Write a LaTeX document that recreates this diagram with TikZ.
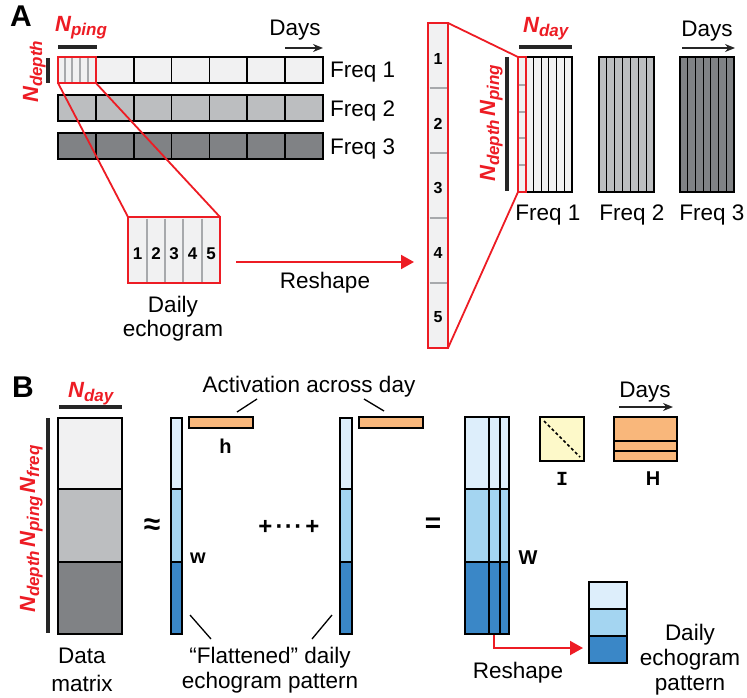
\documentclass[tikz,border=0pt]{standalone}
\usepackage{fontspec}
\setmainfont{Liberation Sans}
\setmonofont{Liberation Mono}
\usetikzlibrary{arrows.meta,calc}
\definecolor{myred}{HTML}{ED1C24}
\definecolor{g1}{HTML}{F1F1F2}
\definecolor{g2}{HTML}{BCBEC0}
\definecolor{g3}{HTML}{808285}
\definecolor{gl}{HTML}{A7A9AC}
\definecolor{b1}{HTML}{DDEEFB}
\definecolor{b2}{HTML}{A4D5F1}
\definecolor{b3}{HTML}{3A87C7}
\definecolor{orng}{HTML}{F9B77B}
\definecolor{ylw}{HTML}{FDF9C9}
\newcommand\Nlab[1]{{\fontsize{22}{24}\selectfont\bfseries\itshape N\raisebox{-4pt}{\fontsize{17}{18}\selectfont #1}}}
\begin{document}
\begin{tikzpicture}[x=1pt,y=-1pt,
  mat/.style={draw=black,line width=1.6pt,inner sep=0pt,outer sep=0pt,anchor=north west},
  redmat/.style={draw=myred,line width=1.6pt,inner sep=0pt,outer sep=0pt,anchor=north west},
  txt/.style={font=\fontsize{22.5}{25}\selectfont,inner sep=0pt,anchor=base},
  bld/.style={font=\fontsize{20}{22}\selectfont\bfseries,inner sep=0pt,anchor=base},
  panel/.style={font=\fontsize{30}{32}\selectfont\bfseries,inner sep=0pt,anchor=base west},
  num/.style={font=\fontsize{17}{18}\selectfont\bfseries,inner sep=0pt},
  op/.style={font=\fontsize{26}{28}\selectfont\bfseries,inner sep=0pt},
  redlab/.style={text=myred,inner sep=0pt,anchor=base west},
  dimbar/.style={line width=4pt,draw=black!85},
  redline/.style={draw=myred,line width=1.8pt},
  divider/.style={draw=black,line width=1.6pt},
  thindiv/.style={draw=black,line width=1.2pt},
  grayline/.style={draw=gl,line width=1.2pt},
  leader/.style={draw=black,line width=1.3pt},
  dayarrow/.style={draw=black!85,line width=1.4pt,-{Stealth[length=10pt,width=8pt]}},
  redarrow/.style={draw=myred,line width=2pt,-{Triangle[length=13pt,width=14pt]}},
]
\useasboundingbox (0,0) rectangle (747,698);

% ---------------- Panel A ----------------
\node[panel] (A) at (10,27) {A};
\node[redlab] (nping) at (55,32) {\Nlab{ping}};
\draw[dimbar] (58,47) -- (97,47);
\node[txt] (daysA) at (295,36) {Days};
\coordinate (daysAs) at (285,48);
\coordinate (daysAe) at (323,48);
\draw[dayarrow] (daysAs) -- (daysAe);

\node[redlab,rotate=90] (ndepth) at (38,103) {\Nlab{depth}};
\draw[dimbar] (48,58) -- (48,83);

\node[mat,fill=g1,minimum width=265pt,minimum height=26pt] (r1) at (58,57) {};
\node[mat,fill=g2,minimum width=265pt,minimum height=26pt] (r2) at (58,95) {};
\node[mat,fill=g3,minimum width=265pt,minimum height=26pt] (r3) at (58,133) {};
\foreach \i in {1,...,6}{
  \draw[divider] ({58+\i*265/7},57) -- ++(0,26);
  \draw[divider] ({58+\i*265/7},95) -- ++(0,26);
  \draw[divider] ({58+\i*265/7},133) -- ++(0,26);
}
\foreach \x in {65,72,80,88} \draw[grayline] (\x,58) -- (\x,82);
\node[redmat,minimum width=37.86pt,minimum height=26pt] (hl) at (58,57) {};

\node[txt,anchor=base west] (fA1) at (330,78) {Freq 1};
\node[txt,anchor=base west] (fA2) at (330,117) {Freq 2};
\node[txt,anchor=base west] (fA3) at (330,155) {Freq 3};

% daily echogram
\node[redmat,fill=g1,minimum width=92pt,minimum height=66pt] (echo) at (128,217) {};
\foreach \x in {147,165,183,202} \draw[grayline] (\x,218.5) -- (\x,281.5);
\foreach \n/\x in {1/137.5,2/156,3/174,4/192.5,5/211}
  \node[num] (e\n) at (\x,253.5) {\n};
\draw[redline] (hl.south west) -- (echo.north west);
\draw[redline] (hl.south east) -- (echo.north east);
\node[txt] (dailyA1) at (173,312) {Daily};
\node[txt] (dailyA2) at (173,336) {echogram};

% reshape arrow
\coordinate (rsA1) at (236,262);
\coordinate (rsA2) at (414,262);
\draw[redarrow] (rsA1) -- (rsA2);
\node[txt] (reshapeA) at (325,288) {Reshape};

% tall column
\node[redmat,fill=g1,minimum width=20pt,minimum height=325pt] (tall) at (428,23) {};
\foreach \y in {88,153,218,283} \draw[grayline] (429.5,\y) -- (446.5,\y);
\foreach \n/\y in {1/59,2/124,3/188,4/252.5,5/317.5}
  \node[num,font=\fontsize{16}{17}\selectfont\bfseries] (t\n) at (438,\y) {\n};

% Freq matrices
\node[mat,fill=g1,minimum width=54pt,minimum height=135pt] (F1) at (518,57) {};
\node[mat,fill=g2,minimum width=55pt,minimum height=135pt] (F2) at (599,57) {};
\node[mat,fill=g3,minimum width=54pt,minimum height=135pt] (F3) at (680,57) {};
\foreach \i in {1,...,6}{
  \draw[thindiv] ({518+\i*54/7},57) -- ++(0,135);
  \draw[thindiv] ({599+\i*55/7},57) -- ++(0,135);
  \draw[thindiv] ({680+\i*54/7},57) -- ++(0,135);
}
\node[redmat,fill=g1,minimum width=7.71pt,minimum height=135pt] (col) at (518,57) {};
\foreach \y in {85,112,138,165} \draw[grayline] (519,\y) -- (525,\y);
\draw[redline] (tall.north east) -- (col.north west);
\draw[redline] (tall.south east) -- (col.south west);

\node[redlab] (ndayA) at (523,33) {\Nlab{day}};
\draw[dimbar] (519,47) -- (572,47);
\draw[dimbar] (507,57) -- (507,191);
\node[redlab,rotate=90] (ndpA) at (495,182) {\Nlab{depth} \Nlab{ping}};
\node[txt] (daysA2) at (707,37) {Days};
\coordinate (daysBs) at (682,48);
\coordinate (daysBe) at (735,48);
\draw[dayarrow] (daysBs) -- (daysBe);
\node[txt] (fR1) at (548,220) {Freq 1};
\node[txt] (fR2) at (632,220) {Freq 2};
\node[txt] (fR3) at (712,220) {Freq 3};

% ---------------- Panel B ----------------
\node[panel] (B) at (12,397) {B};
\node[redlab] (ndayB) at (68,397) {\Nlab{day}};
\draw[dimbar] (59,407) -- (122,407);
\draw[dimbar] (48,418) -- (48,633);
\node[redlab,rotate=90] (ndpfB) at (35,613) {\Nlab{depth} \Nlab{ping} \Nlab{freq}};

\node[mat,fill=g1,minimum width=64pt,minimum height=71pt] (d1) at (58,418) {};
\node[mat,fill=g2,minimum width=64pt,minimum height=73pt] (d2) at (58,489) {};
\node[mat,fill=g3,minimum width=64pt,minimum height=72pt] (d3) at (58,562) {};
\node[txt] (data1) at (82,663) {Data};
\node[txt] (data2) at (82,691) {matrix};

\node[op,font=\fontsize{30}{32}\selectfont\bfseries] (approx) at (152,527) {≈};

\node[mat,fill=b1,minimum width=11pt,minimum height=71pt] (wa1) at (171,418) {};
\node[mat,fill=b2,minimum width=11pt,minimum height=73pt] (wa2) at (171,489) {};
\node[mat,fill=b3,minimum width=11pt,minimum height=72pt] (wa3) at (171,562) {};
\node[mat,fill=orng,minimum width=64pt,minimum height=11pt] (h1) at (189,417) {};
\node[bld] (hlab) at (225.5,453) {h};
\node[bld] (wlab) at (198,563) {w};

\node[op,font=\fontsize{24}{26}\selectfont\bfseries] (plus) at (289,527) {+\hspace{3pt}·\hspace{1.5pt}·\hspace{1.5pt}·\hspace{3pt}+};

\node[mat,fill=b1,minimum width=12pt,minimum height=71pt] (wb1) at (340,418) {};
\node[mat,fill=b2,minimum width=12pt,minimum height=73pt] (wb2) at (340,489) {};
\node[mat,fill=b3,minimum width=12pt,minimum height=72pt] (wb3) at (340,562) {};
\node[mat,fill=orng,minimum width=64pt,minimum height=11pt] (h2) at (359,417) {};

\node[txt] (act) at (309,392) {Activation across day};
\coordinate (l1a) at (257,399); \coordinate (l1b) at (237,412);
\coordinate (l2a) at (364,399); \coordinate (l2b) at (384,411);
\draw[leader] (l1a) -- (l1b);
\draw[leader] (l2a) -- (l2b);

\coordinate (l3a) at (190,615); \coordinate (l3b) at (211,639);
\coordinate (l4a) at (332,615); \coordinate (l4b) at (312,639);
\draw[leader] (l3a) -- (l3b);
\draw[leader] (l4a) -- (l4b);
\node[txt] (flat1) at (270,663) {“Flattened” daily};
\node[txt] (flat2) at (270,688) {echogram pattern};

\node[op,font=\fontsize{28}{30}\selectfont\bfseries] (eq) at (433,525) {=};

\node[mat,fill=b1,minimum width=44pt,minimum height=72pt] (W1) at (465,417) {};
\node[mat,fill=b2,minimum width=44pt,minimum height=73pt] (W2) at (465,489) {};
\node[mat,fill=b3,minimum width=44pt,minimum height=72pt] (W3) at (465,562) {};
\draw[divider] (489,417) -- (489,634);
\draw[divider] (500,417) -- (500,634);
\node[bld] (Wlab) at (528,564) {W};

\node[mat,fill=ylw,minimum width=44pt,minimum height=44pt] (Isq) at (540,417) {};
\draw[line width=1.6pt,dash pattern=on 3pt off 2.5pt] ($(Isq.north west)+(4,4)$) -- ($(Isq.south east)+(-4,-4)$);
\node[bld,font=\fontsize{20}{22}\selectfont\ttfamily\bfseries] (Ilab) at (562,485) {I};

\node[mat,fill=orng,minimum width=63pt,minimum height=44pt] (Hm) at (614,417) {};
\draw[divider] (Hm.west |- 0,441) -- (Hm.east |- 0,441);
\draw[divider] (Hm.west |- 0,451) -- (Hm.east |- 0,451);
\node[bld] (Hlab) at (653,485) {H};
\node[txt] (daysB) at (645,397) {Days};
\coordinate (daysCs) at (619,407);
\coordinate (daysCe) at (673,407);
\draw[dayarrow] (daysCs) -- (daysCe);

\node[mat,fill=b1,minimum width=38pt,minimum height=27pt] (p1) at (589,582) {};
\node[mat,fill=b2,minimum width=38pt,minimum height=27pt] (p2) at (589,609) {};
\node[mat,fill=b3,minimum width=38pt,minimum height=27pt] (p3) at (589,636) {};

\coordinate (rsB1) at (494,635);
\coordinate (rsB2) at (583,648);
\draw[redarrow] (rsB1) |- (rsB2);
\node[txt] (reshapeB) at (518,678) {Reshape};
\node[txt] (dep1) at (690,640) {Daily};
\node[txt] (dep2) at (690,665) {echogram};
\node[txt] (dep3) at (690,690) {pattern};
\end{tikzpicture}
\end{document}
